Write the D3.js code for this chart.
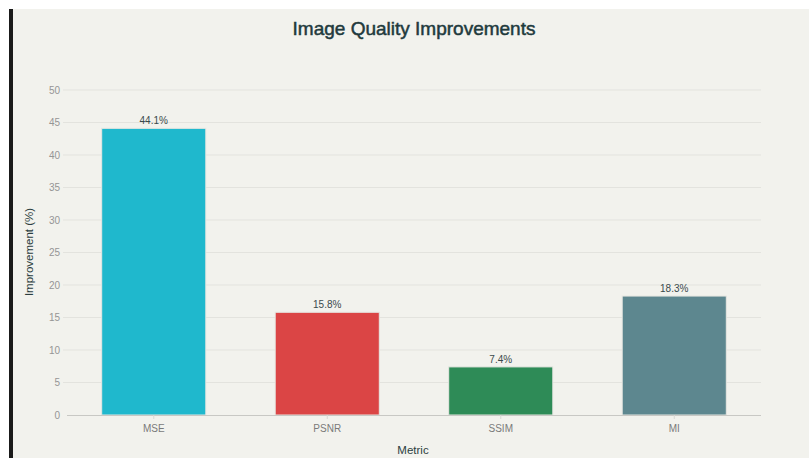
<!DOCTYPE html>
<html>
<head>
<meta charset="utf-8">
<script src="https://cdn.jsdelivr.net/npm/d3@7/dist/d3.min.js"></script>
<style>
  html, body { margin: 0; padding: 0; background: #ffffff; }
  svg { display: block; }
</style>
</head>
<body>
<svg id="chart" width="809" height="460"></svg>
<script>
// Percentage improvement per image-quality metric
const metrics = ["MSE", "PSNR", "SSIM", "MI"];
const improvements = [44.1, 15.8, 7.4, 18.3];
const barColors = ["#1fb8cd", "#db4545", "#2e8b57", "#5d878f"];
const yTicks = [0, 5, 10, 15, 20, 25, 30, 35, 40, 45, 50];

const svg = d3.select("#chart");
const W = 809, H = 460;
const font = "'Liberation Sans', Arial, sans-serif";

// panel background with dark left edge
svg.append("rect").attr("x", 12).attr("y", 9).attr("width", W - 12).attr("height", 449)
  .attr("fill", "#f2f2ed");
svg.append("rect").attr("x", 9).attr("y", 9).attr("width", 4).attr("height", 449)
  .attr("fill", "#1a1a1a");

const x = d3.scaleBand().domain(metrics).range([67, 761])
  .paddingInner(0.4).paddingOuter(0.2);
const y = d3.scaleLinear().domain([0, 50]).range([415, 90]);

// horizontal grid
svg.append("g").selectAll("line").data(yTicks.filter(t => t > 0)).join("line")
  .attr("x1", 63).attr("x2", 761)
  .attr("y1", d => y(d)).attr("y2", d => y(d))
  .attr("stroke", "#e3e3de").attr("stroke-width", 1);

// y axis tick labels
const yAxis = d3.axisLeft(y).tickValues(yTicks).tickSize(0).tickPadding(0);
const gy = svg.append("g").attr("transform", "translate(60,0)").call(yAxis);
gy.select(".domain").remove();
gy.selectAll("text").attr("font-family", font).attr("font-size", 10)
  .attr("fill", "#959595");

// bars
svg.append("g").selectAll("rect").data(metrics).join("rect")
  .attr("x", d => x(d))
  .attr("y", (d, i) => y(improvements[i]))
  .attr("width", x.bandwidth())
  .attr("height", (d, i) => y(0) - y(improvements[i]))
  .attr("fill", (d, i) => barColors[i])
  .attr("stroke", "#e6e6e1").attr("stroke-width", 1);

// baseline / x axis
const xAxis = d3.axisBottom(x).tickSize(4).tickPadding(6);
const gx = svg.append("g").attr("transform", "translate(0,415)").call(xAxis);
gx.select(".domain").attr("stroke", "#c8c8c4").attr("d", "M67,0.5H761");
gx.selectAll(".tick line").attr("stroke", "#d8d8d4");
gx.selectAll("text").attr("font-family", font).attr("font-size", 10)
  .attr("fill", "#7a7a7a");

// value labels
svg.append("g").selectAll("text").data(metrics).join("text")
  .attr("x", d => x(d) + x.bandwidth() / 2)
  .attr("y", (d, i) => y(improvements[i]) - 4)
  .attr("text-anchor", "middle")
  .attr("font-family", font).attr("font-size", 10)
  .attr("fill", "#3a4a4c")
  .text((d, i) => improvements[i].toFixed(1) + "%");

// title (medium weight via a thin outline) and axis titles
svg.append("text").attr("x", 414).attr("y", 35).attr("text-anchor", "middle")
  .attr("font-family", font).attr("font-size", 19)
  .attr("fill", "#1f3a3d").attr("stroke", "#1f3a3d").attr("stroke-width", 0.5)
  .text("Image Quality Improvements");

svg.append("text").attr("x", 413).attr("y", 454).attr("text-anchor", "middle")
  .attr("font-family", font).attr("font-size", 11.5)
  .attr("fill", "#2c3e40").text("Metric");

svg.append("text")
  .attr("transform", "translate(33,252) rotate(-90)")
  .attr("text-anchor", "middle")
  .attr("font-family", font).attr("font-size", 11.5)
  .attr("fill", "#2c3e40").text("Improvement (%)");
</script>
</body>
</html>
